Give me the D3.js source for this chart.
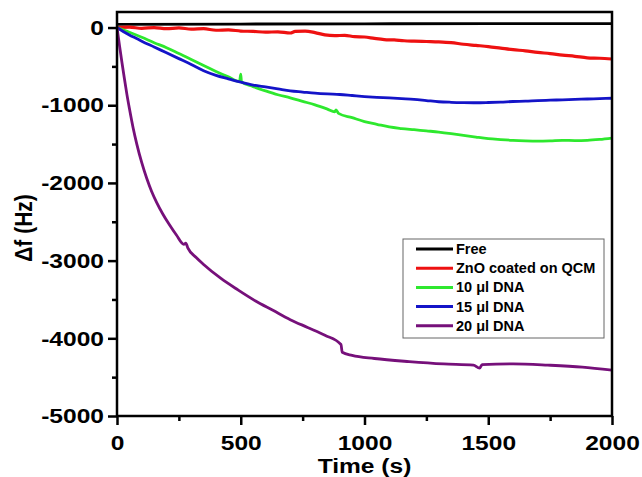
<!DOCTYPE html>
<html>
<head>
<meta charset="utf-8">
<script src="https://cdn.jsdelivr.net/npm/d3@7"></script>
<style>
  body { margin: 0; background: #fff; }
  svg { font-family: "Liberation Sans", Arial, sans-serif; font-weight: bold; }
  .tick text { font-size: 21px; fill: #000; transform-box: fill-box; }
  .x-axis .tick text { transform-origin: 50% 50%; transform: scaleX(1.17); }
  .y-axis .tick text { transform-origin: 100% 50%; transform: scaleX(1.17); }
  .tick line { stroke: #000; stroke-width: 2.5; }
  .legend-label { font-size: 14.5px; }
</style>
</head>
<body>
<div id="chart"></div>
<script>
// series names + colours (legend order)
const seriesNames = ['Free', 'ZnO coated on QCM', '10 \u03bcl DNA', '15 \u03bcl DNA', '20 \u03bcl DNA'];
const seriesColors = ['#000000', '#ee1111', '#2ee82e', '#1414c8', '#76107a'];

// [time (s), delta f (Hz)]
const freeData = [[0, 40], [500, 45], [1000, 48], [1500, 50], [2000, 50]];

const znoData = [
  [0, 0], [50, 5], [100, -10], [150, 0], [200, -15], [250, -5], [300, -20], [350, -15],
  [400, -35], [450, -30], [500, -45], [550, -50], [600, -60], [650, -55], [700, -70],
  [720, -50], [760, -45], [800, -65], [840, -95], [880, -105], [920, -100], [960, -118],
  [1000, -122], [1040, -140], [1080, -155], [1120, -160], [1160, -170], [1200, -175],
  [1250, -180], [1300, -185], [1350, -195], [1400, -215], [1450, -230], [1500, -245],
  [1550, -265], [1600, -285], [1650, -300], [1700, -320], [1750, -335], [1800, -355],
  [1850, -370], [1900, -390], [1950, -395], [2000, -405]
];

const dna10Data = [
  [0, 0], [50, -60], [100, -125], [150, -195], [200, -260], [250, -335], [300, -410],
  [350, -490], [400, -565], [450, -635], [495, -695], [500, -600], [503, -700], [550, -760],
  [600, -815], [650, -865], [700, -905], [750, -950], [800, -995], [850, -1050], [880, -1085],
  [885, -1060], [895, -1105], [950, -1160], [1000, -1210], [1050, -1245], [1100, -1280],
  [1150, -1300], [1200, -1315], [1250, -1330], [1300, -1345], [1350, -1365], [1400, -1388],
  [1450, -1410], [1500, -1430], [1550, -1442], [1600, -1452], [1650, -1458], [1700, -1461],
  [1750, -1458], [1800, -1452], [1850, -1455], [1900, -1452], [1950, -1440], [2000, -1422]
];

const dna15Data = [
  [0, 0], [25, -50], [50, -95], [75, -135], [100, -175], [150, -250], [200, -325],
  [250, -400], [300, -475], [350, -555], [400, -615], [450, -660], [500, -703], [550, -740],
  [600, -765], [650, -790], [700, -815], [750, -830], [800, -845], [850, -855], [900, -862],
  [950, -875], [1000, -888], [1050, -898], [1100, -905], [1150, -915], [1200, -925],
  [1250, -940], [1300, -955], [1350, -962], [1400, -966], [1450, -968], [1500, -965],
  [1550, -960], [1600, -952], [1650, -948], [1700, -940], [1750, -935], [1800, -930],
  [1850, -925], [1900, -920], [1950, -915], [2000, -910]
];

const dna20Data = [
  [0, 0], [10, -230], [20, -450], [30, -660], [40, -860], [50, -1040], [65, -1290],
  [80, -1500], [100, -1740], [120, -1940], [140, -2110], [160, -2250], [185, -2400],
  [210, -2530], [240, -2670], [270, -2790], [278, -2775], [286, -2835], [320, -2960],
  [350, -3050], [420, -3230], [490, -3380], [560, -3520], [630, -3640], [700, -3760],
  [770, -3860], [840, -3960], [905, -4080], [910, -4180], [950, -4220], [1040, -4260],
  [1180, -4300], [1320, -4330], [1440, -4345], [1465, -4385], [1475, -4340], [1600, -4330],
  [1740, -4345], [1880, -4370], [2000, -4410]
];

const allSeries = [freeData, znoData, dna10Data, dna15Data, dna20Data];

const xMajorTicks = [0, 500, 1000, 1500, 2000];
const xMinorTicks = [250, 750, 1250, 1750];
const yMajorTicks = [0, -1000, -2000, -3000, -4000, -5000];
const yMinorTicks = [-500, -1500, -2500, -3500, -4500];

const drawChart = () => {
  const width = 642;
  const height = 477;
  const margins = { top: 12, right: 30, bottom: 61, left: 117 };

  const x = d3.scaleLinear()
    .domain([0, 2000])
    .range([margins.left, width - margins.right]);

  const y = d3.scaleLinear()
    .domain([-5000, 200])
    .range([height - margins.bottom, margins.top]);

  const svg = d3.select('#chart')
    .append('svg')
      .attr('width', width)
      .attr('height', height);

  svg.append('clipPath')
    .attr('id', 'plot-clip')
    .append('rect')
      .attr('x', x(0))
      .attr('y', y(200))
      .attr('width', x(2000) - x(0))
      .attr('height', y(-5000) - y(200));

  // x axis (major + minor)
  svg.append('g')
    .attr('class', 'x-axis')
    .attr('transform', `translate(0,${y(-5000)})`)
    .call(d3.axisBottom(x).tickValues(xMajorTicks).tickSize(9).tickPadding(10).tickFormat(d3.format('d')));
  svg.append('g')
    .attr('transform', `translate(0,${y(-5000)})`)
    .call(d3.axisBottom(x).tickValues(xMinorTicks).tickSize(5).tickFormat(''));

  // y axis (major + minor)
  svg.append('g')
    .attr('class', 'y-axis')
    .attr('transform', `translate(${x(0)},0)`)
    .call(d3.axisLeft(y).tickValues(yMajorTicks).tickSize(9).tickPadding(4).tickFormat(d3.format('d')));
  svg.append('g')
    .attr('transform', `translate(${x(0)},0)`)
    .call(d3.axisLeft(y).tickValues(yMinorTicks).tickSize(5).tickFormat(''));

  svg.selectAll('.domain').remove();
  svg.selectAll('.tick text').text(function () { return this.textContent.replace('\u2212', '-'); });

  // series
  const line = d3.line()
    .x(d => x(d[0]))
    .y(d => y(d[1]))
    .curve(d3.curveMonotoneX);

  const lines = svg.append('g').attr('clip-path', 'url(#plot-clip)');
  allSeries.forEach((data, i) => {
    lines.append('path')
      .datum(data)
      .attr('d', line)
      .attr('fill', 'none')
      .attr('stroke', seriesColors[i])
      .attr('stroke-width', i === 1 ? 3.2 : 2.8)
      .attr('stroke-linejoin', 'round');
  });

  // frame
  svg.append('rect')
    .attr('x', x(0))
    .attr('y', y(200))
    .attr('width', x(2000) - x(0))
    .attr('height', y(-5000) - y(200))
    .attr('fill', 'none')
    .attr('stroke', '#000')
    .attr('stroke-width', 2.5);

  // axis titles
  svg.append('text')
    .attr('transform', `translate(${(x(0) + x(2000)) / 2},473) scale(1.17,1)`)
    .attr('text-anchor', 'middle')
    .attr('font-size', 21)
    .text('Time (s)');

  svg.append('text')
    .attr('transform', `translate(32,${(y(200) + y(-5000)) / 2 + 14}) rotate(-90) scale(1,1.17)`)
    .attr('text-anchor', 'middle')
    .attr('font-size', 21)
    .text('\u0394f (Hz)');

  // legend
  const legend = svg.append('g');
  legend.append('rect')
    .attr('x', 403)
    .attr('y', 239)
    .attr('width', 201)
    .attr('height', 99)
    .attr('fill', '#fff')
    .attr('stroke', '#666')
    .attr('stroke-width', 1);

  seriesNames.forEach((name, i) => {
    const rowY = 249 + i * 19.2;
    legend.append('line')
      .attr('x1', 416)
      .attr('x2', 453)
      .attr('y1', rowY)
      .attr('y2', rowY)
      .attr('stroke', seriesColors[i])
      .attr('stroke-width', 3);
    legend.append('text')
      .attr('class', 'legend-label')
      .attr('x', 456)
      .attr('y', rowY + 5)
      .text(name);
  });
}

drawChart();
</script>
</body>
</html>
